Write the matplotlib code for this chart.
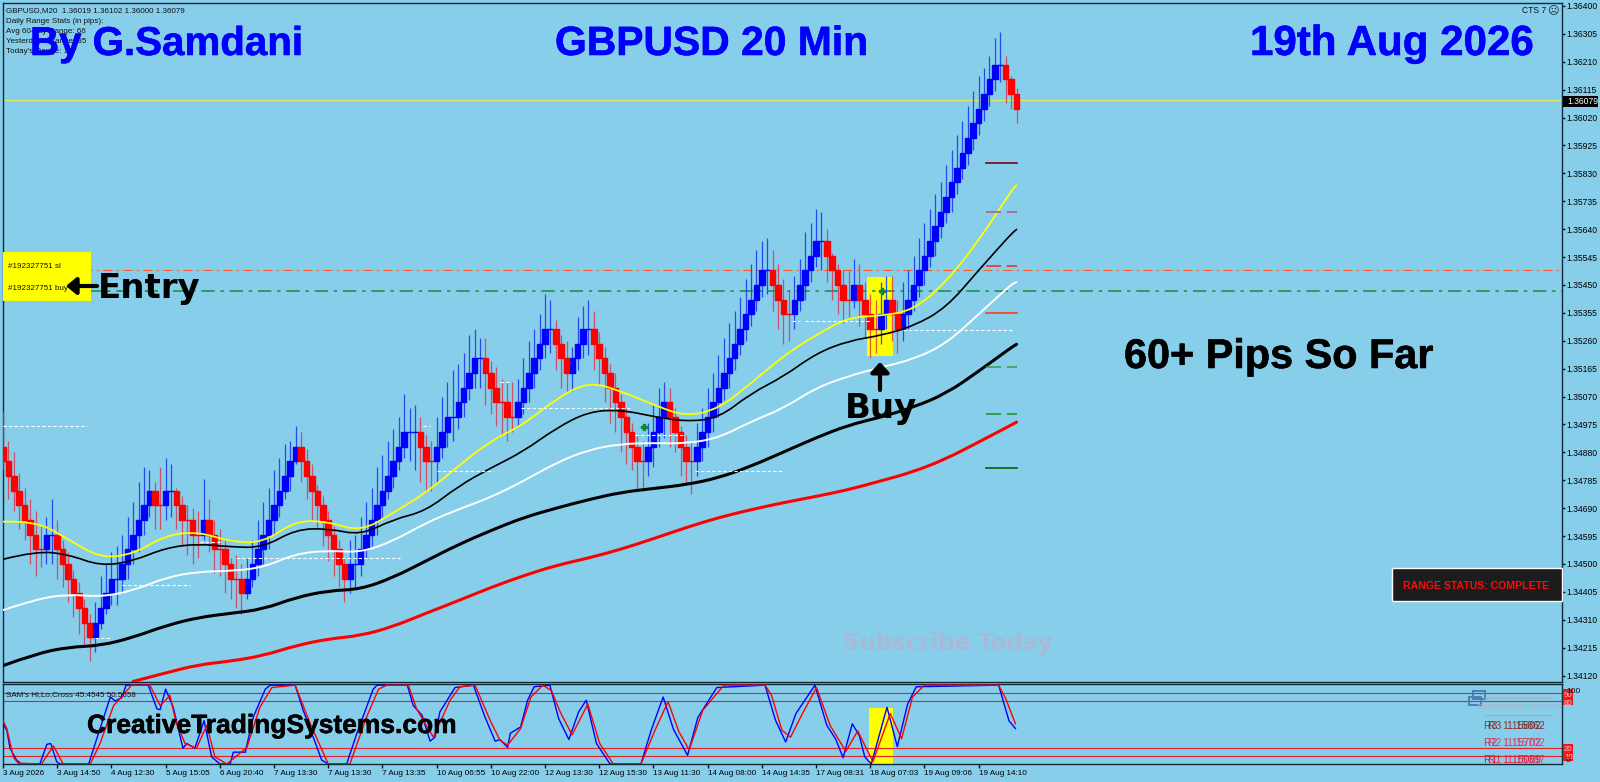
import numpy as np
import matplotlib
matplotlib.use("Agg")
import matplotlib.pyplot as plt
import matplotlib.patheffects as pe
from matplotlib.patches import Rectangle, PathPatch
from matplotlib.path import Path

# all series are in pips above 1.34000, one entry per bar
first_open = 90
closes = [85, 80, 75, 70, 65, 60, 55, 55, 60, 60,
          55, 50, 45, 40, 35, 30, 25, 30, 35, 40,
          45, 45, 50, 55, 60, 65, 70, 75, 70, 70,
          75, 75, 70, 65, 65, 60, 60, 65, 60, 55,
          55, 50, 45, 45, 40, 45, 50, 55, 60, 65,
          70, 75, 80, 85, 90, 85, 80, 75, 70, 65,
          60, 55, 50, 45, 50, 50, 55, 60, 65, 70,
          75, 80, 85, 90, 95, 95, 95, 90, 85, 85,
          90, 95, 100, 100, 105, 110, 115, 120, 120, 115,
          110, 105, 105, 100, 100, 105, 110, 115, 120, 125,
          130, 130, 125, 120, 115, 120, 125, 130, 130, 125,
          120, 115, 110, 105, 100, 95, 90, 85, 85, 90,
          95, 100, 105, 100, 95, 90, 85, 85, 90, 95,
          100, 105, 110, 115, 120, 125, 130, 135, 140, 145,
          150, 150, 145, 140, 135, 135, 140, 145, 150, 155,
          160, 160, 155, 150, 145, 140, 140, 145, 140, 135,
          130, 130, 135, 140, 135, 130, 135, 140, 145, 150,
          155, 160, 165, 170, 175, 180, 185, 190, 195, 200,
          205, 210, 215, 220, 220, 215, 210, 205]
highs = [102, 92, 88, 81, 76, 72, 68, 63, 66, 72,
         65, 58, 54, 48, 44, 38, 33, 37, 46, 50,
         54, 56, 60, 66, 71, 78, 83, 82, 78, 83,
         86, 84, 76, 73, 70, 69, 68, 79, 72, 65,
         62, 58, 52, 53, 50, 52, 58, 65, 71, 76,
         82, 86, 91, 92, 97, 95, 89, 84, 77, 73,
         68, 63, 58, 52, 58, 60, 66, 71, 76, 83,
         87, 92, 96, 100, 108, 103, 104, 100, 94, 92,
         100, 107, 112, 116, 118, 122, 128, 130, 127, 127,
         119, 117, 113, 112, 112, 113, 120, 126, 130, 135,
         142, 140, 133, 128, 126, 124, 134, 138, 140, 136,
         129, 124, 118, 115, 108, 103, 98, 94, 92, 98,
         104, 110, 112, 110, 103, 97, 94, 92, 98, 103,
         110, 115, 121, 127, 132, 136, 141, 147, 152, 157,
         160, 161, 157, 152, 147, 143, 148, 154, 163, 166,
         171, 170, 164, 156, 152, 150, 150, 154, 152, 146,
         142, 140, 146, 148, 148, 140, 146, 150, 155, 161,
         166, 171, 176, 180, 186, 191, 196, 201, 206, 211,
         216, 219, 223, 229, 231, 223, 216, 212]
lows = [82, 72, 68, 62, 58, 50, 46, 49, 50, 50,
        45, 42, 37, 32, 26, 22, 17, 20, 28, 33,
        36, 36, 40, 45, 50, 54, 60, 66, 62, 62,
        65, 66, 62, 56, 53, 50, 52, 58, 54, 47,
        46, 40, 38, 35, 33, 38, 42, 46, 50, 55,
        60, 66, 72, 75, 84, 78, 72, 65, 62, 56,
        51, 46, 42, 37, 40, 42, 46, 52, 56, 60,
        66, 72, 76, 82, 86, 85, 82, 78, 75, 75,
        78, 86, 90, 92, 96, 100, 106, 110, 110, 104,
        101, 97, 94, 92, 95, 97, 101, 105, 110, 116,
        120, 122, 116, 110, 109, 109, 116, 120, 121, 116,
        111, 105, 98, 95, 88, 84, 82, 75, 75, 80,
        83, 90, 93, 90, 88, 80, 78, 74, 80, 85,
        90, 95, 100, 106, 110, 116, 121, 126, 131, 136,
        141, 142, 136, 130, 125, 126, 130, 136, 140, 146,
        151, 150, 146, 140, 135, 132, 134, 137, 131, 127,
        120, 122, 125, 130, 126, 122, 126, 130, 136, 141,
        145, 151, 155, 161, 166, 170, 176, 181, 186, 191,
        196, 201, 206, 211, 214, 207, 205, 200]

# moving averages read every 6 bars
ma_bars = [0, 6, 12, 18, 24, 30, 36, 42, 48, 54, 60, 66, 72, 78, 84, 90, 96,
           102, 108, 114, 120, 126, 132, 138, 144, 150, 156, 162, 168, 174,
           180, 186, 187]
ma_yellow = [64.4, 64.8, 58.4, 52, 53.3, 59.8, 61, 57.6, 57.2, 64.8, 64.4, 61,
             67.4, 74.2, 83.3, 92, 97.4, 106.2, 112.1, 108.9, 104.2, 100.2,
             102.8, 111.5, 120.9, 128, 134, 134.5, 136.4, 146, 160, 177, 179]
ma_black = [51.6, 54.4, 53.3, 49.3, 51, 55.5, 56.9, 55.8, 55.6, 61.8, 62.1,
            59.8, 65.2, 68, 76.5, 82.7, 88.3, 96.2, 101.9, 102.5, 100.2, 98.5,
            99.6, 108.1, 113.8, 121.7, 126, 127.8, 131, 137.2, 150, 162.4, 163.9]
ma_white = [34.3, 38, 39.7, 38.8, 40.9, 45.4, 47.4, 47.6, 48.8, 53.5, 54.6,
            53.9, 57.8, 64, 68.6, 72.7, 78.2, 84.4, 88.9, 90.9, 91.2, 91, 92.9,
            98.5, 103, 110, 114, 117, 119.7, 125, 135, 145.2, 146]
ma_thick = [15.4, 19.4, 21.7, 22.2, 25, 29, 31.8, 33.2, 34.6, 38.6, 40.9, 41.4,
            45.4, 51, 56.6, 61.4, 65.8, 69, 71.9, 74.4, 75.7, 77, 79.3, 83.3,
            88.1, 93, 97.3, 100, 103.4, 108, 115.6, 123.7, 124.8]
ma_red = [10, 12.9, 15.7, 16.9, 18.8, 22.2, 24.5, 25.6, 28.7, 33.2, 37.5, 42,
          46, 49.5, 52, 55, 58.6, 62.4, 65.8, 68.5, 70.9, 73, 75.3, 78.3, 81.4,
          85.8, 91.5, 97.3, 98.3]

# white dashed levels
dash_start = [0, 17, 22, 36.3, 43, 77.5, 80, 91.7, 95.6, 116.6, 127.7, 145.6, 148, 166]
dash_end = [15.5, 20, 34.5, 40, 73.3, 78.8, 90.4, 93.5, 115.7, 125.8, 143.9, 147, 160, 186.3]
dash_level = [97, 24.7, 43, 57.6, 51.9, 97, 81.7, 111.9, 103, 93.9, 81.7, 132.9, 132.9, 129.8]

# short pivot marks on the right of the last bars
pivot_levels = [186.5, 169.8, 151.5, 135.6, 117, 101, 82.7]
pivot_colors = ["#7a0018", "#b0608c", "#e03050", "#ff4010", "#3aa060", "#1e9a30", "#006400"]
pivot_dashed = [False, True, True, False, True, True, False]

# oscillator panel, vertices as (bar, value)
osc_blue_x = [0, .7, 1.3, 2.5, 3.4, 6.8, 8.1, 8.8, 9.9, 10.5, 15.8, 17.3, 19.8, 20.7, 21.9, 22.7, 26.8,
              28.4, 29, 30, 31.4, 33.2, 33.9, 35.4, 37.1, 38.5, 40, 41.9, 42.5, 44.7, 46.2, 48.4, 49.3,
              53.9, 55.4, 58.8, 60, 63.4, 65.3, 68.3, 69, 74.6, 75.7, 77.3, 78.8, 79.7, 80.6, 83.4,
              86.8, 88.9, 90.8, 91.7, 93.1, 93.6, 95.5, 96.8, 98, 100.9, 102.5, 104.4, 106.2, 107.6,
              109.5, 112, 117.7, 119.6, 121.8, 123.7, 126.3, 128.2, 131.7, 140.6, 142.5, 144.4, 146.3,
              149.8, 152, 153.6, 155, 156.7, 158, 159, 160.2, 163.1, 165, 166.9, 168.5, 183.7, 185.6, 186.8]
osc_blue = [51, 43, 20, 5, 0, 0, 25, 26, 3, 0, 0, 32, 85, 80, 84, 100, 100,
            70, 69, 95, 72, 20, 26, 20, 55, 9, 0, 0, 15, 15, 60, 95, 100,
            100, 68, 5, 0, 0, 39, 95, 100, 100, 74, 62, 29, 34, 66, 97,
            100, 60, 29, 31, 21, 39, 47, 81, 98, 100, 58, 31, 66, 81,
            26, 0, 0, 43, 85, 44, 11, 59, 97, 100, 56, 28, 64,
            100, 49, 32, 8, 51, 36, 9, 0, 72, 22, 76, 98, 100, 55, 45]
osc_red_x = [0, .7, 1.9, 2.8, 7.1, 9.3, 11.1, 16.1, 17.9, 20.4, 21.6, 23.7, 27.1, 29, 30.8, 32, 33.6, 35.7,
             37.6, 39.1, 41.3, 45, 47.4, 49.6, 53.9, 56.7, 60, 64, 67.1, 69.3, 70.8, 74.8, 76.3, 79.4,
             82.5, 84.3, 87.1, 89.9, 91.7, 93.1, 95.5, 97.4, 99.6, 101.2, 102.8, 105, 107.9, 110.1, 112.6,
             117.7, 120.3, 122.7, 124.7, 126.6, 129.1, 133, 140.6, 141.8, 143.7, 145.3, 147.5, 150.1, 152.6,
             155.5, 157.7, 160.5, 163.7, 165.8, 167.8, 170, 183.7, 185, 186.8]
osc_red = [55, 45, 9, 1, 0, 23, 0, 0, 26, 74, 83, 100, 100, 74, 87, 51, 26, 20,
           49, 9, 0, 21, 72, 97, 100, 51, 0, 0, 60, 95, 100, 100, 70, 34,
           81, 98, 100, 55, 30, 24, 45, 85, 100, 93, 66, 37, 76, 26, 0,
           0, 43, 79, 41, 18, 68, 100, 100, 87, 43, 34, 64, 97, 49,
           16, 42, 3, 64, 32, 85, 100, 100, 83, 51]
osc_levels = [90, 80, 20, 10]

time_labels = ["3 Aug 2026", "3 Aug 14:50", "4 Aug 12:30", "5 Aug 15:05", "6 Aug 20:40",
               "7 Aug 13:30", "7 Aug 13:30", "7 Aug 13:35", "10 Aug 06:55", "10 Aug 22:00",
               "12 Aug 13:30", "12 Aug 15:30", "13 Aug 11:30", "14 Aug 08:00", "14 Aug 14:35",
               "17 Aug 08:31", "18 Aug 07:03", "19 Aug 09:06", "19 Aug 14:10"]
current_price = 1.36079
stop_level = 1.35502
entry_level = 1.35430

BG = "#87ceeb"
FRAME = "#102a36"
SMALL = "Liberation Sans"


def to_price(pips):
    return 1.34 + np.asarray(pips, dtype=float) / 10000


def curve(axes, xs, ys, **kw):
    # rounds the corners of the drawn line, the readings are the control points
    pts = np.column_stack([xs, ys])
    verts = [pts[0]]
    codes = [Path.MOVETO]
    for k in range(1, len(pts) - 1):
        verts += [pts[k], (pts[k] + pts[k + 1]) / 2]
        codes += [Path.CURVE3, Path.CURVE3]
    verts.append(pts[-1])
    codes.append(Path.LINETO)
    axes.add_patch(PathPatch(Path(verts, codes), fill=False, capstyle="round", **kw))


fig = plt.figure(figsize=(16, 7.82), dpi=100, facecolor=BG)
W, H = 1600, 782
ax = fig.add_axes([2.5 / W, 1 - 682 / H, 1559.5 / W, 679 / H], facecolor=BG)
osc = fig.add_axes([2.5 / W, 1 - 764 / H, 1559.5 / W, 80 / H], facecolor=BG)
over = fig.add_axes([0, 0, 1, 1])
over.set_xlim(0, W)
over.set_ylim(H, 0)
over.axis("off")
over.patch.set_alpha(0)

# bar spacing 5.42 px, first bar at 3 px
xlim = ((2.5 - 3) / 5.42, (1562 - 3) / 5.42)
ax.set_xlim(xlim)
ax.set_ylim(1.364 - 679 * 3.39e-5, 1.364 + 3 * 3.39e-5)
osc.set_xlim(xlim)
osc.set_ylim(0, 101.5)

bars = np.arange(len(closes))
opens = np.array([first_open] + closes[:-1], dtype=float)
closes_a = np.array(closes, dtype=float)
up = []
last = False
for o, c in zip(opens, closes_a):
    if c != o:
        last = c > o
    up.append(last)
up = np.array(up)

# highlight behind the buy bars
ax.axvspan((867 - 3) / 5.42, (893 - 3) / 5.42, ymin=1 - (356 - 3) / 679, ymax=1 - (277 - 3) / 679,
           color="#ffff00", lw=0, zorder=1)

ax.axhline(current_price, color="#dfe86a", lw=1, zorder=2)
ax.axhline(stop_level, color="#ff5a20", lw=.8, dashes=(8, 4, 2, 4), zorder=2)
ax.axhline(entry_level, color="#23904a", lw=1.2, dashes=(8, 3.5, 2, 3.5), zorder=2)

for a, b, lv in zip(dash_start, dash_end, dash_level):
    ax.plot([a, b], to_price([lv, lv]), color="white", lw=.8, dashes=(3, 2), zorder=6)

ax.vlines(bars[up], to_price(lows)[up], to_price(highs)[up], color="#1a3cf0", lw=.9, alpha=.9, zorder=3)
ax.vlines(bars[~up], to_price(lows)[~up], to_price(highs)[~up], color="#e0304a", lw=.9, alpha=.8, zorder=3)
ax.bar(bars[up], to_price(closes_a)[up] - to_price(opens)[up], bottom=to_price(opens)[up],
       width=1.02, color="#0000ff", edgecolor="#0000ff", lw=1, zorder=4)
ax.bar(bars[~up], to_price(closes_a)[~up] - to_price(opens)[~up], bottom=to_price(opens)[~up],
       width=1.02, color="#ff0000", edgecolor="#ff0000", lw=1, zorder=4)

curve(ax, ma_bars, to_price(ma_yellow), edgecolor="#ffff00", lw=1.3, zorder=5)
curve(ax, ma_bars, to_price(ma_black), edgecolor="black", lw=1.2, zorder=5)
curve(ax, ma_bars, to_price(ma_white), edgecolor="white", lw=1.4, zorder=5)
curve(ax, ma_bars, to_price(ma_thick), edgecolor="black", lw=2.2, zorder=5)
curve(ax, ma_bars[4:], to_price(ma_red), edgecolor="#ff0000", lw=2.2, zorder=5)

for lv, col, d in zip(pivot_levels, pivot_colors, pivot_dashed):
    if d:
        ax.plot([181.4, 187], to_price([lv, lv]), color=col, lw=1.2, dashes=(9, 3.5), zorder=5)
    else:
        ax.plot([181.4, 187], to_price([lv, lv]), color=col, lw=1.2, zorder=5)

ax.plot([118.3, 162.2], [1.34966, 1.3543], ls="", marker="P", ms=4, color="#118a22", zorder=6)

ax.yaxis.tick_right()
ax.set_yticks(1.364 - np.arange(25) * 0.00095)
ax.set_yticklabels([f"{1.364 - k * 0.00095:.5f}" for k in range(25)], fontsize=6.2,
                   family=SMALL, color="black")
ax.tick_params(axis="y", direction="out", length=2, width=1, pad=1, color="#111")
ax.set_xticks([])
for s in ax.spines.values():
    s.set_color(FRAME)
    s.set_linewidth(1)

# oscillator
osc.axvspan((869 - 3) / 5.42, (893 - 3) / 5.42, ymax=71 / 101.5, color="#ffff00", lw=0, zorder=1)
for lv in osc_levels:
    osc.axhline(lv, color="#e8202a", lw=.8, zorder=2)
osc.plot(osc_blue_x, osc_blue, color="#0000ff", lw=1, zorder=3)
osc.plot(osc_red_x, osc_red, color="#ff0000", lw=1, zorder=4)
osc.set_yticks([])
osc.set_xticks(np.arange(len(time_labels)) * 10)
osc.set_xticklabels(time_labels, fontsize=5.9, family=SMALL, color="black", ha="left")
osc.tick_params(axis="x", direction="out", length=3, width=1, pad=1, color="#111")
for s in osc.spines.values():
    s.set_color(FRAME)
    s.set_linewidth(1)


def label(x, y, s, size=5.8, color="#111", family=SMALL, weight="normal", **kw):
    return over.text(x, y, s, fontsize=size, color=color, family=family, fontweight=weight, va="baseline", **kw)


def big(x, y, s, size, color="black"):
    t = label(x, y, s, size, color, "Liberation Sans", "bold")
    t.set_path_effects([pe.withStroke(linewidth=.4, foreground=color)])


# MT4 corner text
label(6, 12, "GBPUSD,M20  1.36019 1.36102 1.36000 1.36079")
label(6, 23, "Daily Range Stats (in pips):")
label(6, 33, "Avg 60-day Range: 66")
label(6, 43, "Yesterday's Range: 35")
label(6, 53, "Today's Range: 107")
label(1522, 13, "CTS 7", 6.2)
over.text(1553, 14, "\u2639", fontsize=8, color="#222", family="DejaVu Sans", va="baseline", ha="center")
label(6, 696, "SAM's Hi,Lo,Cross 45.4545 50.5658")

# big titles
big(30, 55, "By G.Samdani", 29, "#0000ff")
big(555, 55, "GBPUSD 20 Min", 29.4, "#0000ff")
big(1250, 55, "19th Aug 2026", 30.3, "#0000ff")
big(1124, 368, "60+ Pips So Far", 29.8)
big(87, 733, "CreativeTradingSystems.com", 19)
label(843, 650, "Subscribe Today", 16.5, "#aab8d8", "DejaVu Sans", "bold")

# order tags and entry arrow
over.add_patch(Rectangle((2.5, 252), 88.5, 49, color="#ffff00", lw=0, zorder=0.5))
label(8, 268, "#192327751 sl", 5.8)
label(8, 290, "#192327751 buy", 5.8)
over.annotate("", xy=(66, 286), xytext=(97, 286),
              arrowprops=dict(arrowstyle="-|>,head_width=.5,head_length=.6", color="black", lw=3, shrinkA=0, shrinkB=0))
label(98, 298, "Entry", 24.5, "black", "DejaVu Sans", "bold")
over.annotate("", xy=(880, 362), xytext=(880, 390),
              arrowprops=dict(arrowstyle="-|>,head_width=.55,head_length=.6", color="black", lw=3, shrinkA=0, shrinkB=0))
label(845, 418, "Buy", 24.5, "black", "DejaVu Sans", "bold")

# current price tag
over.add_patch(Rectangle((1563, 95.5), 35, 11, color="black", lw=0))
label(1567, 104, "1.36079", 6.2, "white")

# range box
over.add_patch(Rectangle((1392, 568), 170, 33, fc="#1c1c1c", ec="white", lw=1))
label(1403, 589, "RANGE STATUS: COMPLETE", 7.6, "#ff0a0a", SMALL, "bold")

# oscillator scale
over.add_patch(Rectangle((1563, 689), 10, 16, color="#f01818", lw=0))
over.add_patch(Rectangle((1563, 744), 10, 17, color="#f01818", lw=0))
for yy, s in zip([697, 705, 751, 759], ["90", "80", "20", "10"]):
    label(1564, yy, s, 5.6, "#ffc8c8")
label(1566, 693, "100", 6, "#111")
label(1566, 762, "0", 6, "#111")

# weekly pivots widget
over.add_patch(Rectangle((1473, 691), 12, 8, fc="none", ec="#4a80b8", lw=1.4))
over.add_patch(Rectangle((1469, 697), 12, 8, fc="none", ec="#4a80b8", lw=1.4))
over.plot([1485, 1552], [698, 698], color="#9fb0bc", lw=1)
over.plot([1485, 1552], [715, 715], color="#9fb0bc", lw=1)
label(1477, 709, "EURFXWEEKLYPIVOTS", 5.4, "#a8b4c4")
label(1484, 729, "R3  1.15802", 7.5, "#7a5020")
label(1488, 729, "R3  1.15862", 7.5, "#8a0020", alpha=.8)
label(1484, 746, "R2  1.15702", 7.5, "#e03050")
label(1488, 746, "R2  1.15702", 7.5, "#e03060", alpha=.8)
label(1484, 763, "R1  1.15089", 7.5, "#e02040")
label(1488, 763, "R1  1.15687", 7.5, "#f01030", alpha=.8)

fig.savefig("out.png", dpi=100, facecolor=BG)
